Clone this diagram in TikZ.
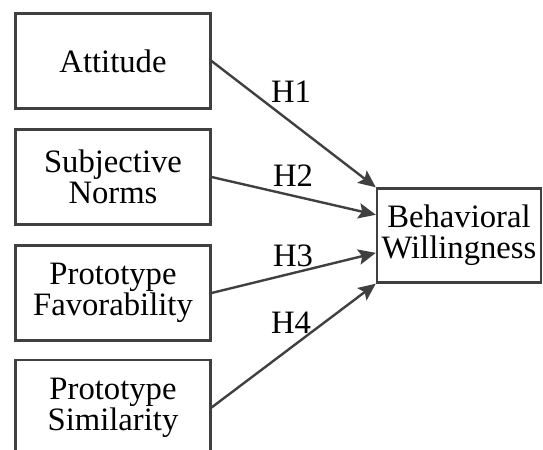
\documentclass[tikz,border=0pt]{standalone}
\usepackage{fontspec}
\setmainfont{Liberation Serif}
\usetikzlibrary{arrows.meta,calc}
\definecolor{linecol}{HTML}{404040}
\tikzset{
  box/.style={draw=linecol, line width=1.8pt, minimum width=146pt, minimum height=71pt,
    align=center, inner sep=0pt, font=\fontsize{24.5}{23.5}\selectfont},
  link/.style={draw=linecol, line width=1.8pt, -{Stealth[length=13pt,width=11.5pt,inset=2.5pt]}},
  hyp/.style={font=\fontsize{24.5}{23.5}\selectfont, inner sep=0pt}
}
\begin{document}
\begin{tikzpicture}[x=0.75pt,y=-0.75pt]
\clip (0,0) rectangle (543,450);
\useasboundingbox (0,0) rectangle (543,450);
\node[box] (att) at (113,61) {Attitude};
\node[box] (sn) at (113,177) {Subjective\\Norms};
\node[box] (pf) at (113,293) {Prototype\\Favorability};
\node[box] (ps) at (113,407.5) {Prototype\\Similarity};
\node[box, minimum width=123pt, minimum height=70.5pt] (bw) at (459,235.5) {Behavioral\\Willingness};
\coordinate (e1) at (bw.north west);
\coordinate (e2) at ($(bw.north west)!0.285!(bw.south west)$);
\coordinate (e3) at ($(bw.north west)!0.68!(bw.south west)$);
\coordinate (e4) at (bw.south west);
\draw[link] (att.east) -- (e1);
\draw[link] (sn.east) -- (e2);
\draw[link] (pf.east) -- (e3);
\draw[link] (ps.east) -- (e4);
\node[hyp] (h1) at (291,92) {H1};
\node[hyp] (h2) at (293,176) {H2};
\node[hyp] (h3) at (293,256) {H3};
\node[hyp] (h4) at (291,323) {H4};
\end{tikzpicture}
\end{document}
